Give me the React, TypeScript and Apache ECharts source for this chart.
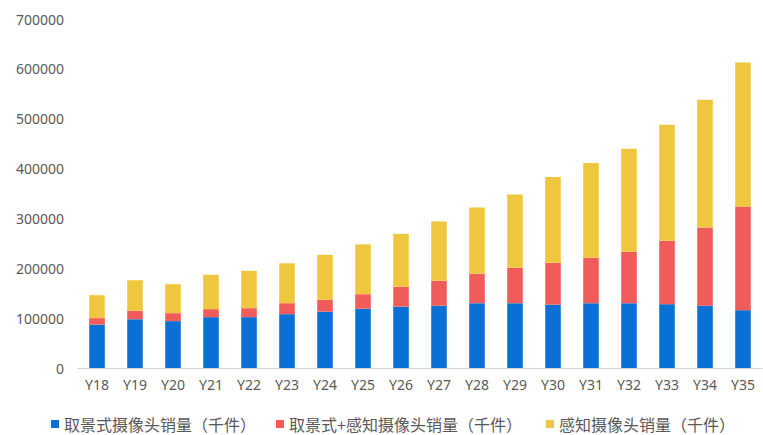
import React, { useEffect, useRef } from "react";
import * as echarts from "echarts";

const categories = ["Y18", "Y19", "Y20", "Y21", "Y22", "Y23", "Y24", "Y25", "Y26", "Y27", "Y28", "Y29", "Y30", "Y31", "Y32", "Y33", "Y34", "Y35"];
const viewfinderCam = [87000, 98000, 94000, 102000, 102000, 108000, 113000, 119000, 123000, 125000, 130000, 130000, 127000, 130000, 130000, 128000, 125000, 116000];
const viewfinderSensingCam = [13000, 17000, 16000, 16000, 18000, 22000, 24000, 29000, 40000, 50000, 59000, 71000, 84000, 91000, 103000, 127000, 157000, 208000];
const sensingCam = [46000, 61000, 58000, 69000, 75000, 80000, 90000, 100000, 106000, 119000, 133000, 147000, 172000, 190000, 207000, 233000, 256000, 289000];
const yTicks = [0, 100000, 200000, 300000, 400000, 500000, 600000, 700000];

const seriesNames = ["取景式摄像头销量（千件）", "取景式+感知摄像头销量（千件）", "感知摄像头销量（千件）"];
const colors = ["#0b70d6", "#f05c5a", "#efc73e"];
const legendLeft = [51, 276, 546];

export default function App() {
  const ref = useRef<HTMLDivElement>(null);
  useEffect(() => {
    if (!ref.current) return;
    const chart = echarts.init(ref.current, null, { renderer: "svg" });
    const data = [viewfinderCam, viewfinderSensingCam, sensingCam];
    chart.setOption({
      animation: false,
      grid: { left: 78, right: 1, top: 19, bottom: 67 },
      legend: seriesNames.map((name, i) => ({
        top: 416,
        left: legendLeft[i],
        itemWidth: 8,
        itemHeight: 8,
        padding: 0,
        icon: "rect",
        textStyle: { color: "#595959", fontSize: 16, fontFamily: "Noto Sans CJK SC" },
        data: [name],
      })),
      xAxis: {
        type: "category",
        data: categories,
        axisTick: { show: false },
        axisLine: { lineStyle: { color: "#d9cfc2", width: 1 } },
        axisLabel: { color: "#595959", fontSize: 14, margin: 9, fontFamily: "Noto Sans" },
      },
      yAxis: {
        type: "value",
        min: yTicks[0],
        max: yTicks[yTicks.length - 1],
        interval: 100000,
        splitLine: { show: false },
        axisLine: { show: false },
        axisTick: { show: false },
        axisLabel: {
          color: "#595959",
          fontSize: 14,
          margin: 14,
          fontFamily: "Noto Sans",
          formatter: (v: number) => String(v),
        },
      },
      series: seriesNames.map((name, i) => ({
        name,
        type: "bar",
        stack: "total",
        barWidth: "41%",
        itemStyle: { color: colors[i] },
        data: data[i],
      })),
    });
    return () => chart.dispose();
  }, []);
  return <div ref={ref} style={{ width: 763, height: 435, position: "absolute", left: 0, top: 0 }} />;
}
